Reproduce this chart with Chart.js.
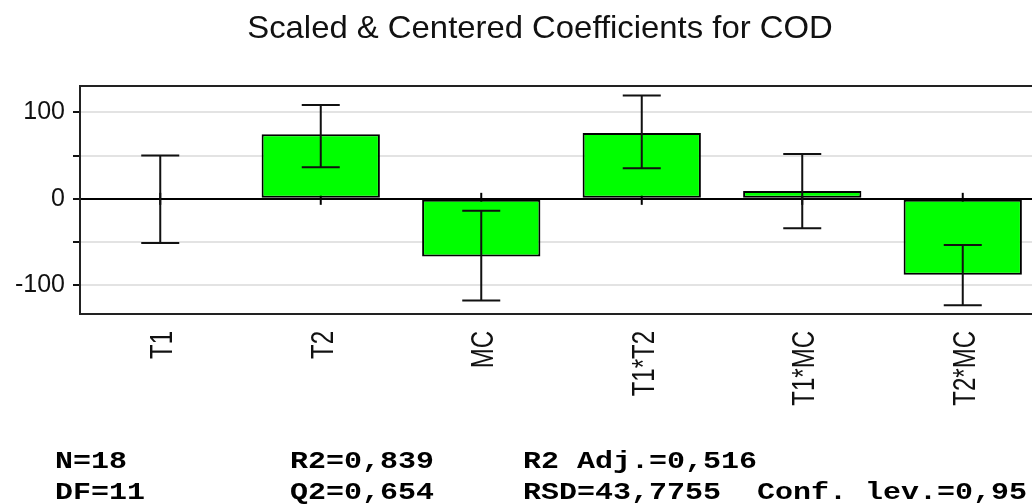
<!DOCTYPE html>
<html>
<head>
<meta charset="utf-8">
<script src="https://cdn.jsdelivr.net/npm/chart.js@4"></script>
<style>
  html, body { margin: 0; padding: 0; background: #fff; overflow: hidden; width: 1032px; height: 504px; }
  canvas { display: block; }
</style>
</head>
<body>
<canvas id="coefChart" width="1060" height="504"></canvas>
<script>
// values
var categories = ["T1", "T2", "MC", "T1*T2", "T1*MC", "T2*MC"];
var coefficients = [0, 74.6, -66.5, 76.1, 9.1, -87.7];
var ciLow = [-51, 36.6, -117.3, 35.2, -34.1, -123];
var ciHigh = [50, 108.4, -13.8, 119.4, 51.9, -53.4];
var yTicks = [-100, -50, 0, 50, 100];
var titleText = "Scaled & Centered Coefficients for COD";
var statsRows = [
  ["N=18", "R2=0,839", "R2 Adj.=0,516"],
  ["DF=11", "Q2=0,654", "RSD=43,7755  Conf. lev.=0,95"],
];

// title, box, zero ticks, error bars, rotated labels and stats text
var extras = {
  id: "extras",
  beforeDatasetsDraw: function (chart) {
    var ctx = chart.ctx;
    var x = chart.scales.x, y = chart.scales.y;
    var y0 = y.getPixelForValue(0);
    ctx.save();
    ctx.strokeStyle = "#000";
    ctx.lineWidth = 2;
    categories.forEach(function (c, i) {
      var cx = x.getPixelForValue(i);
      ctx.beginPath();
      ctx.moveTo(cx, y0 - 6);
      ctx.lineTo(cx, y0 + 6);
      ctx.stroke();
    });
    ctx.restore();
  },
  afterDatasetsDraw: function (chart) {
    var ctx = chart.ctx;
    var x = chart.scales.x, y = chart.scales.y;
    var area = chart.chartArea;
    ctx.save();

    // error bars
    ctx.strokeStyle = "#111";
    ctx.lineWidth = 2;
    categories.forEach(function (c, i) {
      var cx = x.getPixelForValue(i);
      var hi = y.getPixelForValue(ciHigh[i]);
      var lo = y.getPixelForValue(ciLow[i]);
      ctx.beginPath();
      ctx.moveTo(cx, hi); ctx.lineTo(cx, lo);
      ctx.moveTo(cx - 19, hi); ctx.lineTo(cx + 19, hi);
      ctx.moveTo(cx - 19, lo); ctx.lineTo(cx + 19, lo);
      ctx.stroke();
    });

    // plot box
    ctx.strokeStyle = "#222";
    ctx.lineWidth = 2;
    ctx.strokeRect(area.left, area.top, area.right - area.left, area.bottom - area.top);

    // title
    ctx.fillStyle = "#111";
    ctx.font = "30.5px 'Liberation Sans', Arial, sans-serif";
    ctx.textAlign = "center";
    ctx.textBaseline = "alphabetic";
    ctx.save();
    ctx.translate(540, 38);
    ctx.scale(1.077, 1);
    ctx.fillText(titleText, 0, 0);
    ctx.restore();

    // rotated category labels
    ctx.font = "24px 'Liberation Sans', Arial, sans-serif";
    ctx.textAlign = "right";
    categories.forEach(function (c, i) {
      var cx = x.getPixelForValue(i);
      ctx.save();
      ctx.translate(cx + 12, 331);
      ctx.rotate(-Math.PI / 2);
      ctx.scale(1, 1.27);
      ctx.fillText(c, 0, 0);
      ctx.restore();
    });

    // stats text
    ctx.fillStyle = "#000";
    ctx.font = "bold 23px 'Liberation Mono', 'Courier New', monospace";
    ctx.textAlign = "left";
    var colX = [55, 290, 523];
    var rowY = [468, 499];
    statsRows.forEach(function (row, r) {
      row.forEach(function (txt, k) {
        ctx.save();
        ctx.translate(colX[k], rowY[r]);
        ctx.scale(1.304, 1);
        ctx.fillText(txt, 0, 0);
        ctx.restore();
      });
    });
    ctx.restore();
  },
};

var ctx1 = document.getElementById("coefChart").getContext("2d");
var coefChart = new Chart(ctx1, {
  type: "bar",
  data: {
    labels: categories,
    datasets: [
      {
        label: "Coefficient",
        data: coefficients,
        backgroundColor: "#00ff00",
        borderColor: "#000",
        borderWidth: 2,
        borderSkipped: false,
        categoryPercentage: 1,
        barPercentage: 0.737,
      },
    ],
  },
  options: {
    responsive: false,
    animation: false,
    devicePixelRatio: 1,
    layout: { padding: { top: 86, bottom: 190, left: 0, right: 17 } },
    plugins: {
      legend: { display: false },
      title: { display: false },
      tooltip: { enabled: false },
    },
    scales: {
      x: {
        grid: { display: false },
        border: { display: false },
        ticks: { display: false },
        afterFit: function (s) { s.height = 0; },
      },
      y: {
        min: -133,
        max: 130.3,
        afterFit: function (s) { s.width = 80; },
        afterBuildTicks: function (s) {
          s.ticks = yTicks.map(function (v) { return { value: v }; });
        },
        border: { display: false },
        grid: {
          color: function (c) { return c.tick && c.tick.value === 0 ? "#000" : "#e3e3e3"; },
          lineWidth: 2,
          tickColor: "#111",
          tickLength: 7,
        },
        ticks: {
          autoSkip: false,
          padding: 8,
          color: "#111",
          font: { family: "'Liberation Sans', Arial, sans-serif", size: 25 },
          callback: function (v) { return v % 100 === 0 ? v : ""; },
        },
      },
    },
  },
  plugins: [extras],
});
</script>
</body>
</html>
